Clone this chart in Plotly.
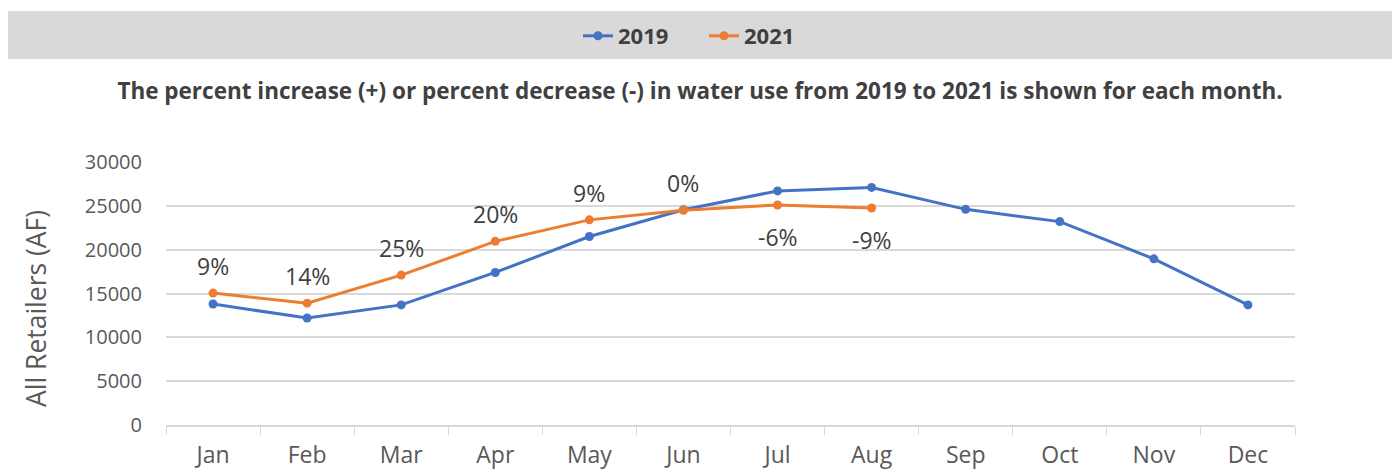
import plotly.graph_objects as go

months = ["Jan", "Feb", "Mar", "Apr", "May", "Jun", "Jul", "Aug", "Sep", "Oct", "Nov", "Dec"]
use_2019 = [13800, 12200, 13700, 17400, 21500, 24550, 26700, 27100, 24600, 23200, 18950, 13700]
use_2021 = [15050, 13900, 17100, 20950, 23400, 24500, 25100, 24750]
pct_labels = ["9%", "14%", "25%", "20%", "9%", "0%", "-6%", "-9%"]
label_below = [False, False, False, False, False, False, True, True]

BLUE = "#4472C4"
ORANGE = "#ED7D31"
FONT = "Open Sans"

fig = go.Figure()
fig.add_trace(go.Scatter(
    x=months, y=use_2019, name="2019", mode="lines+markers",
    line=dict(color=BLUE, width=3), marker=dict(size=9, color=BLUE),
))
fig.add_trace(go.Scatter(
    x=months[:len(use_2021)], y=use_2021, name="2021", mode="lines+markers",
    line=dict(color=ORANGE, width=3), marker=dict(size=9, color=ORANGE),
))

for m, v, t, below in zip(months, use_2021, pct_labels, label_below):
    fig.add_annotation(
        x=m, y=v, text=t, showarrow=False,
        yshift=-32 if below else 27,
        font=dict(family=FONT, size=23, color="#404040"),
    )

# page has an 8px body margin; figure coordinates are page coordinates minus 8
OFF = 8
W, H = 1392, 465
L = 166 - OFF
R = W - (1295 - OFF)
T = 162 - OFF
B = H - (425 - OFF)
pw, ph = W - L - R, H - T - B

def px_x(p):
    return (p - OFF - L) / pw

def px_y(p):
    return (H - B - (p - OFF)) / ph

fig.add_shape(
    type="rect", xref="paper", yref="paper",
    x0=px_x(8), x1=px_x(1392), y0=px_y(59), y1=px_y(11),
    fillcolor="#D9D9D9", line=dict(width=0), layer="below",
)

# y-axis title
fig.add_annotation(
    xref="paper", yref="paper", x=px_x(36), y=px_y(309),
    xanchor="center", yanchor="middle", textangle=-90,
    text="All Retailers (AF)", showarrow=False,
    font=dict(family=FONT, size=26.5, color="#595959"),
)

fig.update_layout(
    width=W, height=H,
    margin=dict(l=L, r=R, t=T, b=B, autoexpand=False),
    paper_bgcolor="white", plot_bgcolor="white",
    font=dict(family=FONT, color="#595959"),
    title=dict(
        text="<b>The percent increase (+) or percent decrease (-) in water use from 2019 to 2021 is shown for each month.</b>",
        x=(700 - OFF) / W, xanchor="center", y=1 - (91 - OFF) / H, yanchor="middle",
        font=dict(family=FONT, size=22.5, color="#404040"),
    ),
    legend=dict(
        orientation="h", x=px_x(578), xanchor="left", y=px_y(36), yanchor="middle",
        font=dict(family=FONT, size=22, color="#404040", weight="bold"),
        bgcolor="rgba(0,0,0,0)", itemwidth=30,
        entrywidth=81, entrywidthmode="pixels",
    ),
    showlegend=True,
)

fig.update_xaxes(
    type="category", range=[-0.5, len(months) - 0.5],
    showgrid=False, showline=True, linecolor="#D9D9D9", linewidth=1.5,
    ticks="outside", tickson="boundaries", ticklen=8, tickcolor="#D9D9D9",
    tickfont=dict(family=FONT, size=23, color="#595959"),
    ticklabelstandoff=9, automargin=False,
)
fig.update_yaxes(
    range=[0, 30000], dtick=5000, tickformat="d",
    showgrid=True, gridcolor="#D9D9D9", gridwidth=1.5, zeroline=False,
    tickfont=dict(family=FONT, size=20, color="#595959"),
    ticklabelstandoff=23, automargin=False,
)

fig.write_html("out.html")
